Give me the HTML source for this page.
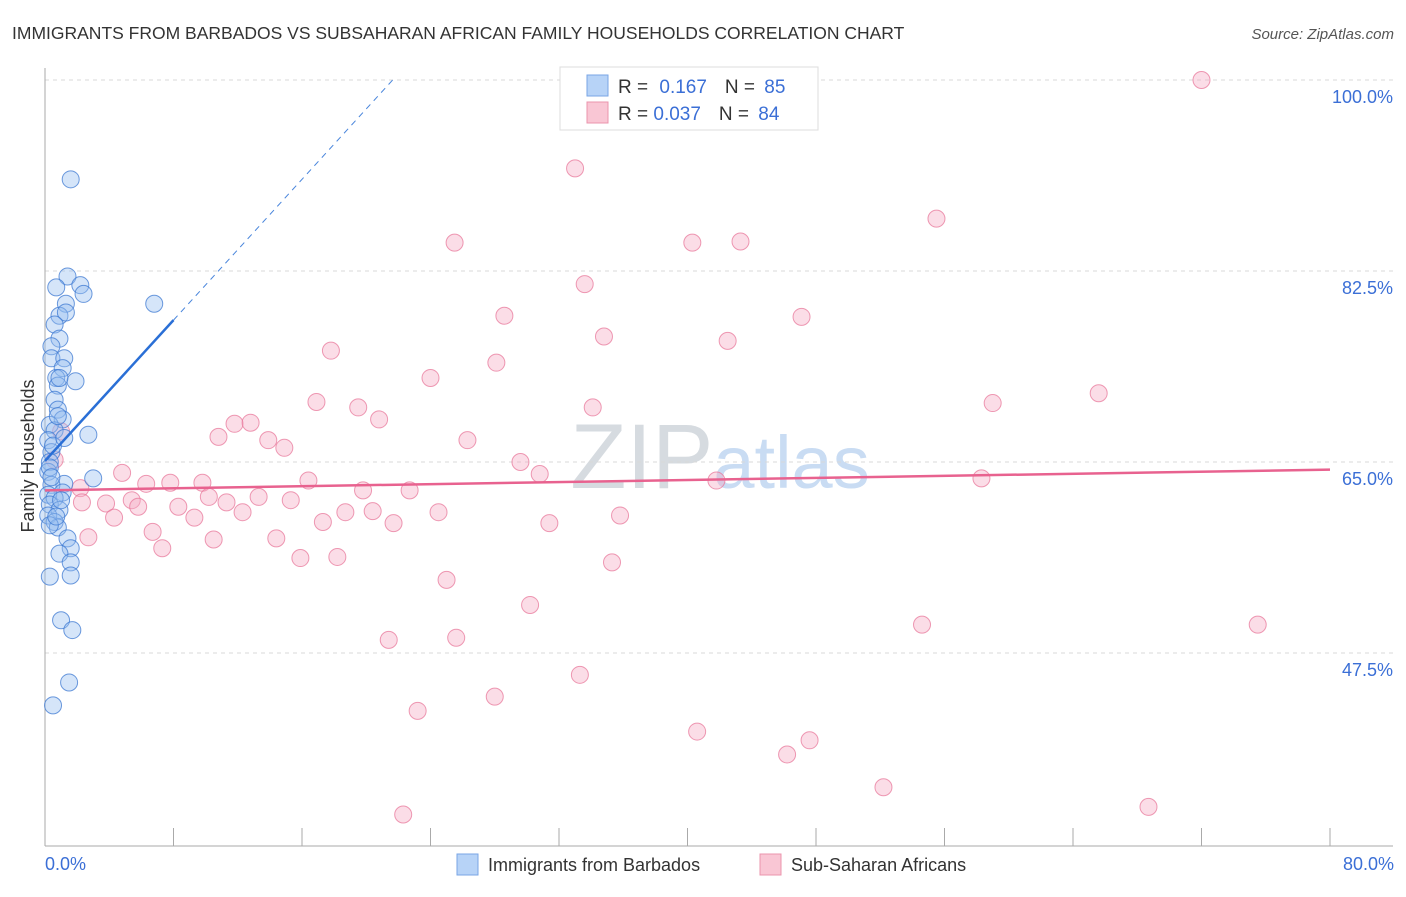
<!DOCTYPE html>
<html><head><meta charset="utf-8"><style>
body{margin:0;background:#fff;font-family:"Liberation Sans",sans-serif;}
svg text{font-family:"Liberation Sans",sans-serif;}
</style></head><body>
<svg id="chart" width="1406" height="892" xmlns="http://www.w3.org/2000/svg">
<text x="12" y="39" font-size="17.5" fill="#333">IMMIGRANTS FROM BARBADOS VS SUBSAHARAN AFRICAN FAMILY HOUSEHOLDS CORRELATION CHART</text>
<text x="1394" y="39" font-size="15" fill="#555" font-style="italic" text-anchor="end">Source: ZipAtlas.com</text>
<text x="720" y="488" font-size="92" text-anchor="middle" fill="#dde3ea" font-family="Liberation Serif"><tspan fill="#d6dbe0">ZIP</tspan><tspan fill="#c9dcf3" font-family="Liberation Sans" font-size="74">atlas</tspan></text>
<g id="grid"></g>
<g id="axes"></g>
<g id="marks"></g>
<text transform="translate(34,456) rotate(-90)" font-size="18" fill="#333" text-anchor="middle">Family Households</text>
<text x="45" y="870" font-size="18" fill="#3b6fd6">0.0%</text>
<text x="1394" y="870" font-size="18" fill="#3b6fd6" text-anchor="end">80.0%</text>
<g>
<rect x="457" y="854" width="21" height="21" fill="#b7d3f7" stroke="#7aa6e6"/>
<text x="488" y="871" font-size="18" fill="#333">Immigrants from Barbados</text>
<rect x="760" y="854" width="21" height="21" fill="#f9c6d4" stroke="#eb94ad"/>
<text x="791" y="871" font-size="18" fill="#333">Sub-Saharan Africans</text>
</g>
<g>
<rect x="560" y="67" width="258" height="63" fill="#fff" stroke="#ddd"/>
<rect x="587" y="75" width="21" height="21" fill="#b7d3f7" stroke="#7aa6e6"/>
<rect x="587" y="102" width="21" height="21" fill="#f9c6d4" stroke="#eb94ad"/>
<text x="618" y="93" font-size="19" fill="#333">R = <tspan fill="#3b6fd6" dx="6">0.167</tspan><tspan dx="18">N = </tspan><tspan fill="#3b6fd6" dx="4">85</tspan></text>
<text x="618" y="120" font-size="19" fill="#333">R = <tspan fill="#3b6fd6">0.037</tspan><tspan dx="18">N = </tspan><tspan fill="#3b6fd6" dx="4">84</tspan></text>
</g>
</svg>
<script>
const yTicks=[100,82.5,65,47.5];
const xTicks=[0,8,16,24,32,40,48,56,64,72,80];
const blueX=[1.6,1.4,0.7,2.2,2.4,6.8,1.3,0.9,1.3,0.6,0.9,0.4,0.4,1.2,1.1,0.7,1.9,0.8,0.9,0.6,0.8,1.1,0.3,0.6,2.7,0.2,0.4,0.3,0.2,3.0,1.2,0.4,1.1,0.2,0.6,0.3,0.9,0.2,0.6,0.8,0.3,1.4,1.6,0.9,1.6,1.6,0.3,1.0,1.7,1.5,0.5,0.5,0.3,0.8,1.0,0.4,0.7,1.2];
const blueY=[90.9,82.0,81.0,81.2,80.4,79.5,79.5,78.4,78.7,77.6,76.3,75.6,74.5,74.5,73.6,72.7,72.4,72.0,72.7,70.7,69.8,68.9,68.4,67.9,67.5,67.0,65.9,65.0,64.1,63.5,63.0,62.9,62.2,62.0,61.7,61.1,60.6,60.1,59.5,59.0,59.2,58.0,57.1,56.6,55.8,54.6,54.5,50.5,49.6,44.8,42.7,66.5,64.5,69.2,61.5,63.6,60.0,67.2];
const pinkX=[72.0,33.0,55.5,25.5,40.3,43.3,33.6,28.6,47.1,34.8,42.5,17.8,28.1,24.0,65.6,16.9,59.0,19.5,34.1,20.8,11.8,12.8,10.8,13.9,26.3,14.9,29.6,4.8,30.8,41.8,58.3,16.4,6.3,7.8,9.8,19.8,22.7,2.2,10.2,13.3,15.3,11.3,5.4,3.8,5.8,8.3,2.3,12.3,18.7,20.4,24.5,9.3,4.3,35.8,17.3,21.7,31.4,6.7,2.7,10.5,14.4,7.3,15.9,18.2,35.3,25.0,30.2,54.6,75.5,21.4,25.6,33.3,28.0,23.2,40.6,47.6,46.2,52.2,68.7,22.3,0.6,1.0];
const pinkY=[100.0,91.9,87.3,85.1,85.1,85.2,81.3,78.4,78.3,76.5,76.1,75.2,74.1,72.7,71.3,70.5,70.4,70.0,70.0,68.9,68.5,68.6,67.3,67.0,67.0,66.3,65.0,64.0,63.9,63.3,63.5,63.3,63.0,63.1,63.1,62.4,62.4,62.6,61.8,61.8,61.5,61.3,61.5,61.2,60.9,60.9,61.3,60.4,60.4,60.5,60.4,59.9,59.9,60.1,59.5,59.4,59.4,58.6,58.1,57.9,58.0,57.1,56.2,56.3,55.8,54.2,51.9,50.1,50.1,48.7,48.9,45.5,43.5,42.2,40.3,39.5,38.2,35.2,33.4,32.7,65.2,67.8];
const blueTrend=[65.1,78.0];const blueTrendX=[0,8];
const pinkTrend=[62.4,64.3];
const NS="http://www.w3.org/2000/svg";
const sx=v=>45+v/80*1285, sy=v=>80+(100-v)*10.914;
function mk(t,a,p){const e=document.createElementNS(NS,t);for(const k in a)e.setAttribute(k,a[k]);p.appendChild(e);return e;}
const grid=document.getElementById('grid'),axes=document.getElementById('axes'),marks=document.getElementById('marks');
yTicks.forEach(v=>{
 const l=mk('line',{x1:45,x2:1393,y1:sy(v),y2:sy(v),stroke:'#d8d8d8','stroke-dasharray':'4,4'},grid);
 
 
 const t=mk('text',{x:1393,y:sy(v)+23,'font-size':18,fill:'#3b6fd6','text-anchor':'end'},grid);
 t.textContent=v.toFixed(1)+'%';
 
 
});
const ya=mk('line',{x1:45,x2:45,y1:68,y2:846,stroke:'#aaa'},axes);


const xa=mk('line',{x1:45,x2:1393,y1:846,y2:846,stroke:'#aaa'},axes);


xTicks.forEach(v=>{
 const l=mk('line',{x1:sx(v),x2:sx(v),y1:828,y2:846,stroke:'#aaa'},axes);
 
 
});
pinkX.forEach((x,i)=>{
 const c=mk('circle',{cx:sx(x),cy:sy(pinkY[i]),r:8.5,fill:'rgba(246,170,195,0.4)',stroke:'rgba(232,120,155,0.75)','stroke-width':1},marks);
 
 
});
blueX.forEach((x,i)=>{
 const c=mk('circle',{cx:sx(x),cy:sy(blueY[i]),r:8.5,fill:'rgba(150,190,240,0.4)',stroke:'rgba(60,120,210,0.75)','stroke-width':1},marks);
 
 
});
const slope=(blueTrend[1]-blueTrend[0])/(blueTrendX[1]-blueTrendX[0]);
const bx2=(100-blueTrend[0])/slope;
const bd=mk('line',{x1:sx(blueTrendX[1]),y1:sy(blueTrend[1]),x2:sx(bx2),y2:sy(100),stroke:'#4a86dc','stroke-width':1,'stroke-dasharray':'6,5'},marks);


const bl=mk('line',{x1:sx(blueTrendX[0]),y1:sy(blueTrend[0]),x2:sx(blueTrendX[1]),y2:sy(blueTrend[1]),stroke:'#2a6fd6','stroke-width':2.5},marks);


const pl=mk('line',{x1:sx(0),y1:sy(pinkTrend[0]),x2:sx(80),y2:sy(pinkTrend[1]),stroke:'#e8628f','stroke-width':2.5},marks);


</script>
</body></html>
